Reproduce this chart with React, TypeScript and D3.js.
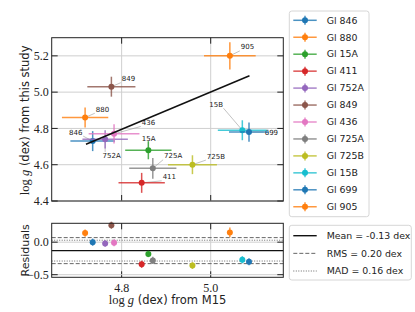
import * as d3 from "d3";

// stars, in legend order
const stars = ["Gl 846", "Gl 880", "Gl 15A", "Gl 411", "Gl 752A", "Gl 849", "Gl 436", "Gl 725A", "Gl 725B", "Gl 15B", "Gl 699", "Gl 905"];
const shortLabels = ["846", "880", "15A", "411", "752A", "849", "436", "725A", "725B", "15B", "699", "905"];
const colors = ["#1f77b4", "#ff7f0e", "#2ca02c", "#d62728", "#9467bd", "#8c564b", "#e377c2", "#7f7f7f", "#bcbd22", "#17becf", "#1f77b4", "#ff7f0e"];

// log g from M15 (x) and from this study (y)
const loggM15 = [4.735, 4.718, 4.86, 4.845, 4.763, 4.777, 4.783, 4.87, 4.959, 5.071, 5.086, 5.043];
const loggM15Err = [0.05, 0.052, 0.052, 0.052, 0.051, 0.054, 0.057, 0.053, 0.055, 0.055, 0.045, 0.058];
const loggThis = [4.73, 4.86, 4.68, 4.5, 4.74, 5.03, 4.77, 4.58, 4.6, 4.79, 4.78, 5.2];
const loggThisErr = [0.055, 0.055, 0.05, 0.055, 0.05, 0.055, 0.053, 0.057, 0.052, 0.055, 0.053, 0.075];
const residuals = [0.0, 0.14, -0.18, -0.34, -0.02, 0.26, -0.01, -0.28, -0.36, -0.27, -0.3, 0.15];

// fitted line
const fitX = [4.72, 5.087];
const fitY = [4.713, 5.09];

// residual statistics
const meanRes = -0.13;
const rmsRes = 0.2;
const madRes = 0.16;

const xTicks = [4.8, 5.0];
const yTicks = [4.4, 4.6, 4.8, 5.0, 5.2];
const resTicks = [-0.5, 0.0];

// annotation offsets in px (dx, dy) from the point to the label's left/middle
const labelOffsets: [number, number][] = [
  [-23.7, -9], [10.7, -8.3], [-6.6, -12], [21, -6], [-2.6, 16.7], [10.4, -8],
  [27.7, -11.4], [11.3, -12.6], [14.4, -8.6], [-33, -26], [15.7, 0], [11, -9],
];

const SANS = "DejaVu Sans, sans-serif";
const SERIF = "Liberation Serif, DejaVu Serif, serif";

const L = 51.7, R = 283.3;
const T1 = 37.7, B1 = 201;
const T2 = 223.3, B2 = 277.3;

const x = d3.scaleLinear().domain([4.643, 5.163]).range([L, R]);
const y = d3.scaleLinear().domain([4.4, 5.3]).range([B1, T1]);
const yr = d3.scaleLinear().domain([-0.54, 0.29]).range([B2, T2]);

const fmt = (v: number) => d3.format(".1f")(v).replace("-", "\u2212");

const LogG = () => (
  <>
    <tspan fontFamily={SERIF} fontSize={12.5}>log </tspan>
    <tspan fontFamily={SERIF} fontSize={12.5} fontStyle="italic">g</tspan>
  </>
);

const Frame = ({ top, bottom, yScale, ticks }: any) => (
  <g>
    {xTicks.map((t) => (
      <g key={"x" + t}>
        <line x1={x(t)} x2={x(t)} y1={top} y2={bottom} stroke="#cfcfcf" strokeWidth={1} />
        <line x1={x(t)} x2={x(t)} y1={bottom} y2={bottom - 6} stroke="#222" strokeWidth={1} />
        <line x1={x(t)} x2={x(t)} y1={top} y2={top + 6} stroke="#222" strokeWidth={1} />
      </g>
    ))}
    {ticks.map((t: number) => (
      <g key={"y" + t}>
        <line x1={L} x2={R} y1={yScale(t)} y2={yScale(t)} stroke="#cfcfcf" strokeWidth={1} />
        <line x1={L} x2={L + 6} y1={yScale(t)} y2={yScale(t)} stroke="#222" strokeWidth={1} />
        <line x1={R - 6} x2={R} y1={yScale(t)} y2={yScale(t)} stroke="#222" strokeWidth={1} />
        <text x={L - 3} y={yScale(t)} dy="0.35em" textAnchor="end" fontFamily={SERIF} fontSize={12} fill="#222">
          {fmt(t)}
        </text>
      </g>
    ))}
  </g>
);

export default function App() {
  const fitLine = d3.line<number>().x((d) => x(d)).y((_, i) => y(fitY[i]));
  return (
    <svg width={415} height={312} style={{ position: "absolute", left: 0, top: 0, background: "#fff" }}>
      {/* top panel */}
      <Frame top={T1} bottom={B1} yScale={y} ticks={yTicks} />
      {stars.map((s, i) => {
        const px = x(loggM15[i]), py = y(loggThis[i]);
        const [dx, dy] = labelOffsets[i];
        const tx = px + dx, ty = py + dy;
        const w = shortLabels[i].length * 4.4;
        // leader goes to the nearest point of the label box
        const ex = Math.max(tx - 1, Math.min(px, tx + w + 1));
        const ey = Math.max(ty - 4, Math.min(py, ty + 4));
        return (
          <g key={s}>
            <line x1={px} y1={py} x2={ex} y2={ey} stroke="#999" strokeWidth={0.6} />
            <text x={tx} y={ty} dy="0.35em" fontFamily={SANS} fontSize={7} fill="#222">
              {shortLabels[i]}
            </text>
          </g>
        );
      })}
      {stars.map((s, i) => {
        const px = x(loggM15[i]), py = y(loggThis[i]);
        return (
          <g key={s + "pt"}>
            <line x1={x(loggM15[i] - loggM15Err[i])} x2={x(loggM15[i] + loggM15Err[i])} y1={py} y2={py} stroke={colors[i]} strokeWidth={1.5} opacity={0.8} />
            <line x1={px} x2={px} y1={y(loggThis[i] - loggThisErr[i])} y2={y(loggThis[i] + loggThisErr[i])} stroke={colors[i]} strokeWidth={1.5} opacity={0.8} />
            <circle cx={px} cy={py} r={3} fill={colors[i]} />
          </g>
        );
      })}
      <path d={fitLine(fitX) || ""} stroke="#111" strokeWidth={1.5} fill="none" />
      <rect x={L} y={T1} width={R - L} height={B1 - T1} fill="none" stroke="#222" strokeWidth={1} />
      <text transform={`translate(25,${(T1 + B1) / 2 + 1}) rotate(-90)`} textAnchor="middle" dy="0.35em" fontFamily={SANS} fontSize={11.5} fill="#222">
        <LogG /> (dex) from this study
      </text>

      {/* residual panel */}
      <Frame top={T2} bottom={B2} yScale={yr} ticks={resTicks} />
      <line x1={L} x2={R} y1={yr(meanRes)} y2={yr(meanRes)} stroke="#111" strokeWidth={1.2} />
      {[meanRes + rmsRes, meanRes - rmsRes].map((v) => (
        <line key={"r" + v} x1={L} x2={R} y1={yr(v)} y2={yr(v)} stroke="#666" strokeWidth={1} strokeDasharray="4,2" />
      ))}
      {[meanRes + madRes, meanRes - madRes].map((v) => (
        <line key={"m" + v} x1={L} x2={R} y1={yr(v)} y2={yr(v)} stroke="#666" strokeWidth={1} strokeDasharray="1,1.5" />
      ))}
      {stars.map((s, i) => {
        const px = x(loggM15[i]);
        return (
          <g key={s + "res"}>
            <line x1={px} x2={px} y1={yr(residuals[i] - loggThisErr[i])} y2={yr(residuals[i] + loggThisErr[i])} stroke={colors[i]} strokeWidth={1.5} opacity={0.8} />
            <circle cx={px} cy={yr(residuals[i])} r={3} fill={colors[i]} />
          </g>
        );
      })}
      <rect x={L} y={T2} width={R - L} height={B2 - T2} fill="none" stroke="#222" strokeWidth={1} />
      {xTicks.map((t) => (
        <text key={"xl" + t} x={x(t)} y={B2 + 10} dy="0.35em" textAnchor="middle" fontFamily={SERIF} fontSize={12} fill="#222">
          {fmt(t)}
        </text>
      ))}
      <text x={(L + R) / 2} y={300} dy="0.35em" textAnchor="middle" fontFamily={SANS} fontSize={11.5} fill="#222">
        <LogG /> (dex) from M15
      </text>
      <text transform={`translate(25,${(T2 + B2) / 2}) rotate(-90)`} textAnchor="middle" dy="0.35em" fontFamily={SANS} fontSize={11} fill="#222">
        Residuals
      </text>

      {/* legend: stars */}
      <rect x={289.3} y={11} width={79.7} height={205.7} rx={2.5} fill="#fff" fillOpacity={0.8} stroke="#d6d6d6" strokeWidth={1} />
      {stars.map((s, i) => {
        const ly = 20.3 + i * 16.95;
        return (
          <g key={s + "lg"}>
            <line x1={293.3} x2={316.7} y1={ly} y2={ly} stroke={colors[i]} strokeWidth={1.5} opacity={0.8} />
            <line x1={305} x2={305} y1={ly - 4.5} y2={ly + 4.5} stroke={colors[i]} strokeWidth={1.5} opacity={0.8} />
            <circle cx={305} cy={ly} r={3} fill={colors[i]} />
            <text x={326.7} y={ly} dy="0.35em" fontFamily={SANS} fontSize={9.4} fill="#222">{s}</text>
          </g>
        );
      })}

      {/* legend: statistics */}
      <rect x={289.3} y={225.3} width={122} height={54.7} rx={2.5} fill="#fff" fillOpacity={0.8} stroke="#d6d6d6" strokeWidth={1} />
      {[
        { label: `Mean = ${meanRes.toFixed(2)} dex`, stroke: "#111", dash: "none" },
        { label: `RMS = ${rmsRes.toFixed(2)} dex`, stroke: "#666", dash: "4,2" },
        { label: `MAD = ${madRes.toFixed(2)} dex`, stroke: "#666", dash: "1,1.5" },
      ].map((e, i) => {
        const ly = 235.7 + i * 17.65;
        return (
          <g key={e.label}>
            <line x1={293.3} x2={316.7} y1={ly} y2={ly} stroke={e.stroke} strokeWidth={i === 0 ? 1.4 : 1} strokeDasharray={e.dash} />
            <text x={326.7} y={ly} dy="0.35em" fontFamily={SANS} fontSize={9.4} fill="#222">{e.label}</text>
          </g>
        );
      })}
    </svg>
  );
}
